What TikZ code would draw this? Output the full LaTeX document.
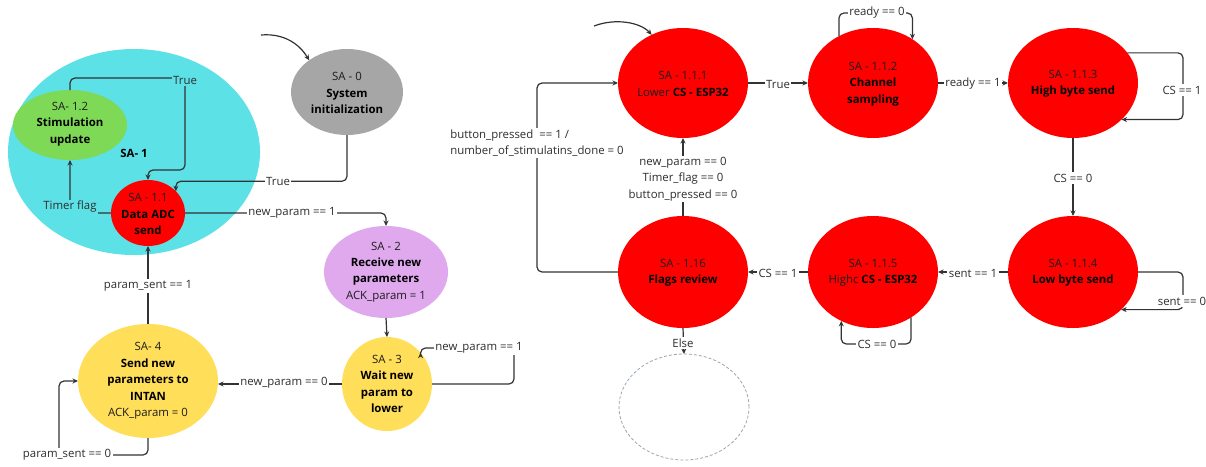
\documentclass[tikz,border=0pt]{standalone}
\usepackage{fontspec}
\setmainfont{Open Sans}
\usetikzlibrary{shapes.geometric,arrows.meta,calc}

\definecolor{cyanbg}{HTML}{5CE1E6}
\definecolor{grn}{HTML}{7ED957}
\definecolor{gry}{HTML}{A6A6A6}
\definecolor{vio}{HTML}{E0A9EE}
\definecolor{yel}{HTML}{FFDE59}
\definecolor{rd}{HTML}{FF0000}
\definecolor{ln}{HTML}{333333}
\definecolor{txt}{HTML}{2E2E2E}
\definecolor{sttxt}{HTML}{1C1C1C}
\definecolor{dashc}{HTML}{9AA6B2}

\newcommand\boldtxt[1]{\textcolor{black}{\bfseries #1}}

\begin{document}
\begin{tikzpicture}[x=1pt,y=-1pt,
  font=\fontsize{11.4}{16.4}\selectfont,
  state/.style={ellipse,inner sep=0pt,outer sep=0pt},
  stt/.style={align=center,text=sttxt,inner sep=0pt},
  lnk/.style={draw=ln,line width=1.2pt,rounded corners=5pt},
  arr/.style={lnk,-{Stealth[length=5.5pt,width=5pt]}},
  lab/.style={fill=white,inner sep=1.5pt,text=txt},
  labc/.style={lab,fill=cyanbg}]

\fill[white] (0,0) rectangle (1206,466);
\useasboundingbox (0,0) rectangle (1206,466);

% ---------------- left machine ----------------
\node[state,fill=cyanbg,minimum width=252,minimum height=206] (sa1) at (134,152) {};
\node[stt] (sa1t) at (134,153) {\boldtxt{SA- 1}};

\node[state,fill=grn,minimum width=114,minimum height=70] (sa12) at (70,125) {};
\node[stt] (sa12t) at ([yshift=1pt]sa12) {SA- 1.2\\\boldtxt{Stimulation}\\\boldtxt{update}};

\node[state,fill=rd,minimum width=74,minimum height=66] (sa11) at (148,213) {};
\node[stt] (sa11t) at ([yshift=-1pt]sa11) {SA - 1.1\\\boldtxt{Data ADC}\\\boldtxt{send}};

\node[state,fill=gry,minimum width=112,minimum height=86] (sa0) at (347,92) {};
\node[stt] (sa0t) at ([yshift=-1pt]sa0) {SA - 0\\\boldtxt{System}\\\boldtxt{initialization}};

\node[state,fill=vio,minimum width=124,minimum height=92] (sa2) at (386,272) {};
\node[stt] (sa2t) at (sa2) {SA - 2\\\boldtxt{Receive new}\\\boldtxt{parameters}\\ACK\_param = 1};

\node[state,fill=yel,minimum width=90,minimum height=94] (sa3) at (387,384) {};
\node[stt] (sa3t) at (sa3) {SA - 3\\\boldtxt{Wait new}\\\boldtxt{param to}\\\boldtxt{lower}};

\node[state,fill=yel,minimum width=140,minimum height=114] (sa4) at (148,381) {};
\node[stt] (sa4t) at (sa4) {SA- 4\\\boldtxt{Send new}\\\boldtxt{parameters to}\\\boldtxt{INTAN}\\ACK\_param = 0};

\coordinate (i0) at (261,35);
\coordinate (l3) at (514,348);
\coordinate (l4) at (59,455);

\draw[arr] (i0) .. controls (285,33) and (300,45) .. (sa0.140);
\draw[arr] (sa12.north) |- (185,78) -- (185,170) -| (sa11.north);
\node[labc] (tTrueA) at (185,80) {True};
\draw[arr] (sa11.west) -| (sa12.south);
\node[labc] (tTimer) at (70,207) {Timer flag};
\draw[arr] (sa0.south) |- ($(sa11.38)+(0,-10)$) -- (sa11.38);
\node[lab] (tTrueB) at (278,181) {True};
\draw[arr] (sa11.east) -| (sa2.north);
\node[lab] (tNp1) at (292,213) {new\_param == 1};
\draw[arr] (sa2.south) -- (sa3.north);
\draw[arr] (sa3.east) -| (l3) -| (sa3.43);
\node[lab] (tNp1b) at (479,348) {new\_param == 1};
\draw[arr] (sa3.west) -- (sa3.west -| sa4.east);
\node[lab] (tNp0) at (284,383) {new\_param == 0};
\draw[arr] (sa4.north) -- (sa11.south);
\node[lab] (tPs1) at (148,286) {param\_sent == 1};
\draw[arr] (sa4.south) |- (l4) |- (sa4.west);
\node[lab] (tPs0) at (67,455) {param\_sent == 0};

% ---------------- right machine ----------------
\node[state,fill=rd,minimum width=130,minimum height=110] (sa111) at (683,83) {};
\node[stt] (sa111t) at ([yshift=-1pt]sa111) {SA - 1.1.1\\Lower \boldtxt{CS - ESP32}};
\node[state,fill=rd,minimum width=130,minimum height=110] (sa112) at (873,83) {};
\node[stt] (sa112t) at ([yshift=-1pt]sa112) {SA - 1.1.2\\\boldtxt{Channel}\\\boldtxt{sampling}};
\node[state,fill=rd,minimum width=130,minimum height=110] (sa113) at (1073,83) {};
\node[stt] (sa113t) at ([yshift=-1pt]sa113) {SA - 1.1.3\\\boldtxt{High byte send}};
\node[state,fill=rd,minimum width=130,minimum height=112] (sa114) at (1073,272) {};
\node[stt] (sa114t) at ([yshift=-1pt]sa114) {SA - 1.1.4\\\boldtxt{Low byte send}};
\node[state,fill=rd,minimum width=130,minimum height=112] (sa115) at (873,272) {};
\node[stt] (sa115t) at ([yshift=-1pt]sa115) {SA - 1.1.5\\Highc \boldtxt{CS - ESP32}};
\node[state,fill=rd,minimum width=130,minimum height=112] (sa116) at (683,272) {};
\node[stt] (sa116t) at ([yshift=-1pt]sa116) {SA - 1.16\\\boldtxt{Flags review}};
\node[state,draw=dashc,line width=0.8pt,dash pattern=on 3pt off 2pt,minimum width=130,minimum height=106] (fin) at (684,407) {};

\coordinate (i1) at (594,26);
\coordinate (r3) at (1183,90);
\coordinate (r4) at (1183,300);
\coordinate (l6) at (537,143);

\draw[arr] (i1) .. controls (615,18) and (640,22) .. (sa111.123);
\draw[arr] (sa111.east) -- (sa112.west);
\node[lab] (tTrueC) at (778,84) {True};
\draw[arr] (sa112.126) |- (877,13) -| (sa112.48);
\node[lab] (tR0) at (877,13) {ready == 0};
\draw[arr] (sa112.east) -- (sa113.west);
\node[lab] (tR1) at (973,84) {ready == 1};
\draw[arr] (sa113.29) -| (r3) |- (sa113.-37);
\node[lab] (tCs1) at (1182,90) {CS == 1};
\draw[arr] (sa113.south) -- (sa114.north);
\node[lab] (tCs0) at (1073,178) {CS == 0};
\draw[arr] (sa114.east) -| (r4) |- (sa114.-38);
\node[lab] (tS0) at (1182,301) {sent == 0};
\draw[arr] (sa114.west) -- (sa115.east);
\node[lab] (tS1) at (973,273) {sent == 1};
\draw[arr] (sa115.-50) |- (877,344) -| (sa115.-123);
\node[lab] (tCs0b) at (877,344) {CS == 0};
\draw[arr] (sa115.west) -- (sa116.east);
\node[lab] (tCs1b) at (778,273) {CS == 1};
\draw[arr] (sa116.north) -- (sa111.south);
\node[lab,align=center] (tFlags0) at (683,179) {new\_param == 0\\Timer\_flag == 0\\button\_pressed == 0};
\draw[arr] (sa116.west) -| (l6) |- (sa111.west);
\node[lab,align=left] (tBtn) at (537,143) {button\_pressed\ \ == 1 /\\number\_of\_stimulatins\_done = 0};
\draw[arr] (sa116.south) -- (fin.north);
\node[lab] (tElse) at (683,343) {Else};

\end{tikzpicture}
\end{document}
